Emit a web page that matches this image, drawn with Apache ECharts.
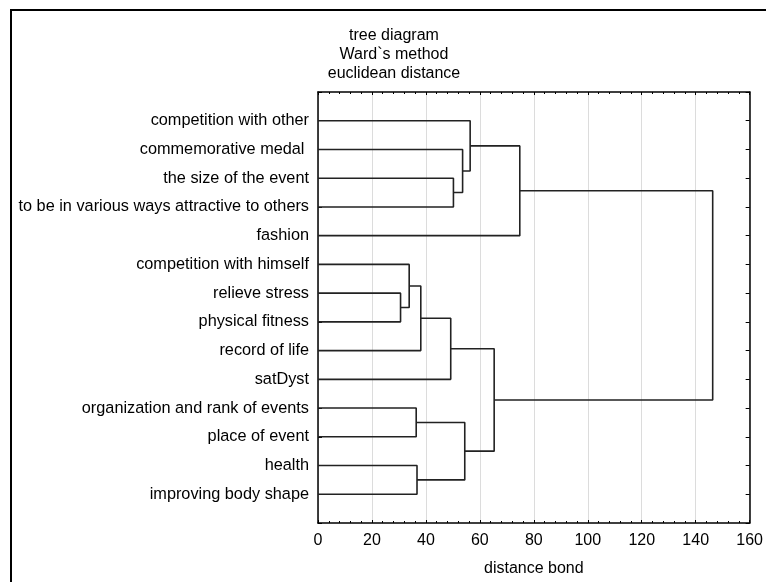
<!DOCTYPE html>
<html>
<head>
<meta charset="utf-8">
<script src="https://cdn.jsdelivr.net/npm/echarts@6/dist/echarts.min.js"></script>
<style>
html,body{margin:0;padding:0;background:#fff;}
#chart{width:766px;height:582px;}
</style>
</head>
<body>
<div id="chart"></div>
<script>
// Leaves (top to bottom)
const leaves = [
  'competition with other',
  'commemorative medal ',
  'the size of the event',
  'to be in various ways attractive to others',
  'fashion',
  'competition with himself',
  'relieve stress',
  'physical fitness',
  'record of life',
  'satDyst',
  'organization and rank of events',
  'place of event',
  'health',
  'improving body shape'
];
// Merges: child A id, child B id (ids 0..13 = leaves, 14+ = merges in order), linkage distance
const mergeA = [2, 1, 0, 16, 6, 5, 19, 20, 10, 12, 22, 21, 17];
const mergeB = [3, 14, 15, 4, 7, 18, 8, 9, 11, 13, 23, 24, 25];
const mergeDist = [50.2, 53.6, 56.4, 74.8, 30.6, 33.8, 38.1, 49.2, 36.4, 36.7, 54.4, 65.3, 146.3];
const xTicks = [0, 20, 40, 60, 80, 100, 120, 140, 160];
const titleLines = ['tree diagram', 'Ward`s method', 'euclidean distance'];
const xName = 'distance bond';

const FONT = "'Liberation Sans', Arial, sans-serif";
const nodeX = leaves.map(() => 0);
const nodeY = leaves.map((_, i) => i);
const series = [];
for (let k = 0; k < mergeDist.length; k++) {
  const a = mergeA[k], b = mergeB[k], h = mergeDist[k];
  series.push({
    type: 'line',
    xAxisIndex: 0, yAxisIndex: 0,
    showSymbol: false, symbol: 'none',
    silent: true,
    lineStyle: { color: '#222', width: 1.6 },
    data: [[nodeX[a], nodeY[a]], [h, nodeY[a]], [h, nodeY[b]], [nodeX[b], nodeY[b]]]
  });
  nodeX.push(h);
  nodeY.push((nodeY[a] + nodeY[b]) / 2);
}

const chart = echarts.init(document.getElementById('chart'));
const axisLine = { show: true, onZero: false, lineStyle: { color: '#000', width: 1.5 } };
chart.setOption({
  animation: false,
  backgroundColor: '#fff',
  textStyle: { fontFamily: FONT },
  grid: { left: 318, right: 10, top: 92, bottom: 59, containLabel: false },
  graphic: [
    { type: 'line', shape: { x1: 11, y1: 9, x2: 11, y2: 600 }, style: { stroke: '#000', lineWidth: 2 } },
    { type: 'line', shape: { x1: 10, y1: 10, x2: 800, y2: 10 }, style: { stroke: '#000', lineWidth: 2 } }
  ].concat(titleLines.map((t, i) => ({
    type: 'text', x: 394, y: 36 + i * 19,
    style: { text: t, fill: '#000', font: '16px ' + FONT, textAlign: 'center', textVerticalAlign: 'middle' }
  }))),
  xAxis: [
    {
      type: 'value', position: 'bottom', min: xTicks[0], max: xTicks[xTicks.length - 1], interval: 20,
      axisLine: axisLine,
      axisTick: { show: true, inside: true, length: 3, lineStyle: { color: '#000' } },
      minorTick: { show: true, splitNumber: 5, length: 2, lineStyle: { color: '#000' } },
      splitLine: { show: true, lineStyle: { color: '#dcdcdc', width: 1 } },
      axisLabel: { color: '#000', fontSize: 16, margin: 10, fontFamily: FONT },
      name: xName, nameLocation: 'middle', nameGap: 38,
      nameTextStyle: { color: '#000', fontSize: 16, fontFamily: FONT }
    },
    {
      type: 'value', position: 'top', min: xTicks[0], max: xTicks[xTicks.length - 1], interval: 20,
      axisLine: axisLine,
      axisTick: { show: true, inside: true, length: 3, lineStyle: { color: '#000' } },
      minorTick: { show: true, splitNumber: 5, length: 2, lineStyle: { color: '#000' } },
      splitLine: { show: false },
      axisLabel: { show: false }
    }
  ],
  yAxis: [
    {
      type: 'value', position: 'left', min: -1, max: leaves.length, interval: 1, inverse: true,
      axisLine: axisLine,
      axisTick: { show: true, inside: true, length: 4, lineStyle: { color: '#000' } },
      splitLine: { show: false },
      axisLabel: {
        color: '#000', fontSize: 16.3, margin: 9, fontFamily: FONT,
        formatter: v => (Number.isInteger(v) && v >= 0 && v < leaves.length) ? leaves[v] : ''
      }
    },
    {
      type: 'value', position: 'right', min: -1, max: leaves.length, interval: 1, inverse: true,
      axisLine: axisLine,
      axisTick: { show: true, inside: true, length: 4, lineStyle: { color: '#000' } },
      splitLine: { show: false },
      axisLabel: { show: false }
    }
  ],
  series: series
});
</script>
</body>
</html>
